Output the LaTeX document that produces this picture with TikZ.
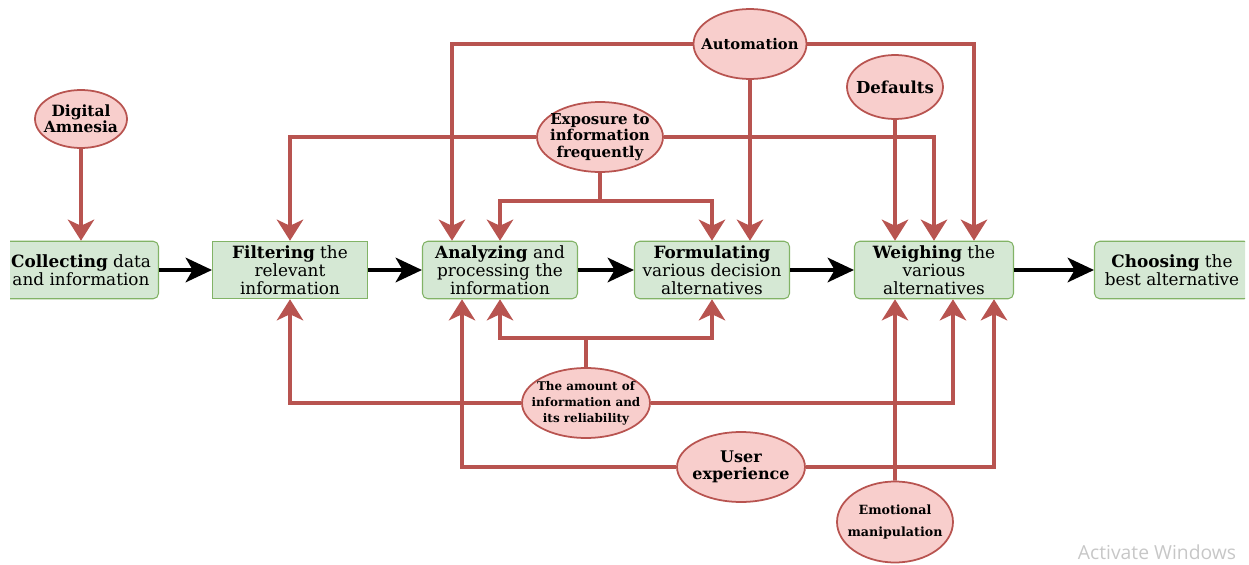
\documentclass[tikz,border=0pt]{standalone}
\usepackage{fontspec}
\setmainfont{DejaVu Serif}
\newfontfamily\winfont{Open Sans}
\usetikzlibrary{arrows,%
                arrows.meta,%
                shapes.geometric}
\usetikzlibrary{positioning}

\definecolor{stepfill}{HTML}{D5E8D4}
\definecolor{stepline}{HTML}{82B366}
\definecolor{factfill}{HTML}{F8CECC}
\definecolor{factline}{HTML}{B85450}

\begin{document}
\begin{tikzpicture}[x=0.02cm,y=-0.02cm,
        stage/.style={draw=stepline,fill=stepfill,rounded corners=3pt,line width=0.6pt,
            minimum width=3.1cm,minimum height=1.15cm,inner sep=1pt,align=center,
            font=\fontsize{9.6}{10.4}\selectfont},
        factor/.style={ellipse,draw=factline,fill=factfill,line width=1pt,inner sep=-30pt,
            align=center},
        flow/.style={line width=2.1pt,black,-{Stealth[length=15pt,width=14pt,inset=4pt]}},
        push/.style={line width=2.1pt,factline,-{Stealth[length=12pt,width=15pt,inset=3.5pt]}},
        wire/.style={line width=2.1pt,factline}]
        \useasboundingbox (0,0) rectangle (1249,565);
        \clip (10,0) rectangle (1245,565);

        % stages of the decision
        \node[stage] (collect) at (81,270) {\textbf{Collecting} data\\and information};
        \node[stage,rounded corners=0pt] (filt) at (290,270) {\textbf{Filtering} the\\relevant\\information};
        \node[stage] (analyze) at (500,270) {\textbf{Analyzing} and\\processing the\\information};
        \node[stage] (form) at (712,270) {\textbf{Formulating}\\various decision\\alternatives};
        \node[stage,minimum width=3.18cm] (weigh) at (934,270) {\textbf{Weighing} the\\various\\alternatives};
        \node[stage] (choose) at (1172,270) {\textbf{Choosing} the\\best alternative};

        % factors
        \node[factor,minimum width=1.84cm,minimum height=1.16cm,font=\bfseries\fontsize{8.8}{9}\selectfont]
            (amnesia) at (81,119) {Digital\\Amnesia};
        \node[factor,minimum width=2.26cm,minimum height=1.4cm,font=\bfseries\fontsize{8.4}{10}\selectfont]
            (auto) at (750,44) {Automation};
        \node[factor,minimum width=2.52cm,minimum height=1.4cm,font=\bfseries\fontsize{8.5}{9.4}\selectfont]
            (expo) at (600,137) {Exposure to\\information\\frequently};
        \node[factor,minimum width=1.92cm,minimum height=1.28cm,font=\bfseries\fontsize{9.4}{11}\selectfont]
            (defaults) at (895,87) {Defaults};
        \node[factor,minimum width=2.56cm,minimum height=1.4cm,font=\bfseries\fontsize{6.8}{9.1}\selectfont]
            (amount) at (586,403) {The amount of\\information and\\its reliability};
        \node[factor,minimum width=2.56cm,minimum height=1.4cm,font=\bfseries\fontsize{9.1}{10}\selectfont]
            (user) at (741,467) {User\\experience};
        \node[factor,minimum width=2.32cm,minimum height=1.62cm,font=\bfseries\fontsize{7.2}{12}\selectfont]
            (emotion) at (895,522) {Emotional\\manipulation};

        \coordinate[below=0.56cm of expo.south] (expojoin);
        \coordinate[above=0.58cm of amount.north] (amountjoin);

        % main flow
        \draw[flow] (collect) -- (filt);
        \draw[flow] (filt) -- (analyze);
        \draw[flow] (analyze) -- (form);
        \draw[flow] (form) -- (weigh);
        \draw[flow] (weigh) -- (choose);

        % influences from above
        \draw[push] (amnesia) -- (collect);
        \draw[push] (auto.west) -| ([xshift=-0.96cm]analyze.north);
        \draw[push] (auto.east) -| ([xshift=0.8cm]weigh.north);
        \draw[push] (auto) -- ([xshift=0.76cm]form.north);
        \draw[push] (expo.west) -| (filt.north);
        \draw[push] (expo.east) -| (weigh.north);
        \draw[wire] (expo.south) -- (expojoin);
        \draw[push] (expojoin) -| (analyze.north);
        \draw[push] (expojoin) -| (form.north);
        \draw[push] (defaults) -- ([xshift=-0.78cm]weigh.north);

        % influences from below
        \draw[wire] (amount.north) -- (amountjoin);
        \draw[push] (amountjoin) -| (analyze.south);
        \draw[push] (amountjoin) -| (form.south);
        \draw[push] (amount.west) -| (filt.south);
        \draw[push] (amount.east) -| ([xshift=0.38cm]weigh.south);
        \draw[push] (user.west) -| ([xshift=-0.76cm]analyze.south);
        \draw[push] (user.east) -| ([xshift=1.2cm]weigh.south);
        \draw[push] (emotion) -- ([xshift=-0.78cm]weigh.south);

        \node[text=black!22,font=\winfont\fontsize{11}{12}\selectfont] (watermark) at (1157,552) {Activate Windows};
\end{tikzpicture}
\end{document}
